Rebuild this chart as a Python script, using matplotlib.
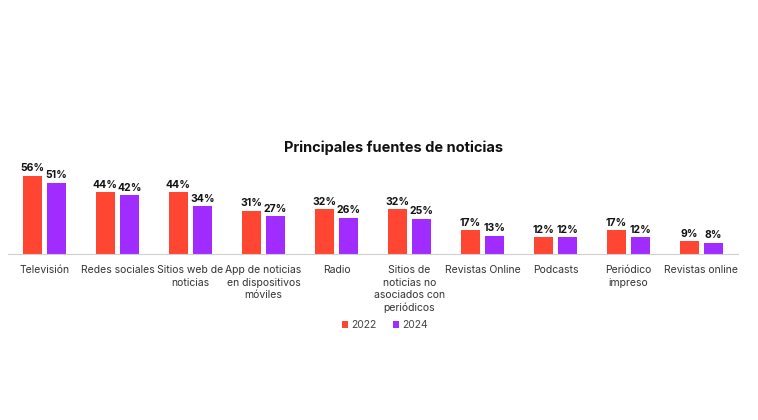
#!/usr/bin/python3

"""
Principales fuentes de noticias: grouped bars 2022 vs 2024.
"""

import numpy as np
import matplotlib
matplotlib.use("Agg")
import matplotlib.pyplot as plt

categories = [
    "Televisión", "Redes sociales", "Sitios web de\nnoticias",
    "App de noticias\nen dispositivos\nmóviles", "Radio",
    "Sitios de\nnoticias no\nasociados con\nperiódicos",
    "Revistas Online", "Podcasts", "Periódico\nimpreso", "Revistas online",
]
values_2022 = [56, 44, 44, 31, 32, 32, 17, 12, 17, 9]
values_2024 = [51, 42, 34, 27, 26, 25, 13, 12, 12, 8]
years = ["2022", "2024"]

RED = "#FF4633"
PURPLE = "#A02CFF"

plt.rcParams["font.family"] = ["Inter", "DejaVu Sans"]

fig = plt.figure()
fig.set_size_inches(7.58, 4.2)
W, H = 758, 420

# axes placed in pixel terms: left 8, right 738, baseline y=254, top y=140
ax = fig.add_axes([8 / W, (H - 254) / H, 730 / W, 114 / H])

x = np.arange(len(categories))
bw = 0.27
off = 0.165

b1 = ax.bar(x - off, values_2022, bw, color=RED, label=years[0])
b2 = ax.bar(x + off, values_2024, bw, color=PURPLE, label=years[1])

for bars in (b1, b2):
    for rect in bars:
        h = rect.get_height()
        ax.text(rect.get_x() + rect.get_width() / 2, h + 1.8, f"{h:.0f}%",
                ha="center", va="bottom", fontsize=7.5, fontweight="bold",
                color="#111111")

ax.set_xlim(-0.5, len(categories) - 0.5)
ax.set_ylim(0, 114 / 1.4)
ax.set_xticks(x)
ax.set_xticklabels(categories, fontsize=7.5, color="#333333", linespacing=1.3)
ax.tick_params(axis="x", length=0, pad=8)
ax.set_yticks([])

for side in ("top", "right", "left"):
    ax.spines[side].set_visible(False)
ax.spines["bottom"].set_color("#D0D0D0")
ax.spines["bottom"].set_linewidth(0.8)

fig.text(394 / W, 1 - 148 / H, "Principales fuentes de noticias",
         ha="center", va="center", fontsize=10.5, fontweight="bold",
         color="#111111")

ax.legend(loc="center", bbox_to_anchor=(385 / W, 1 - 325 / H),
          bbox_transform=fig.transFigure, ncol=2, frameon=False,
          fontsize=7.5, handlelength=0.6, handleheight=0.6,
          handletextpad=0.3, columnspacing=1.6, labelcolor="#444444")

fig.savefig("out.png", dpi=100, facecolor="white")
